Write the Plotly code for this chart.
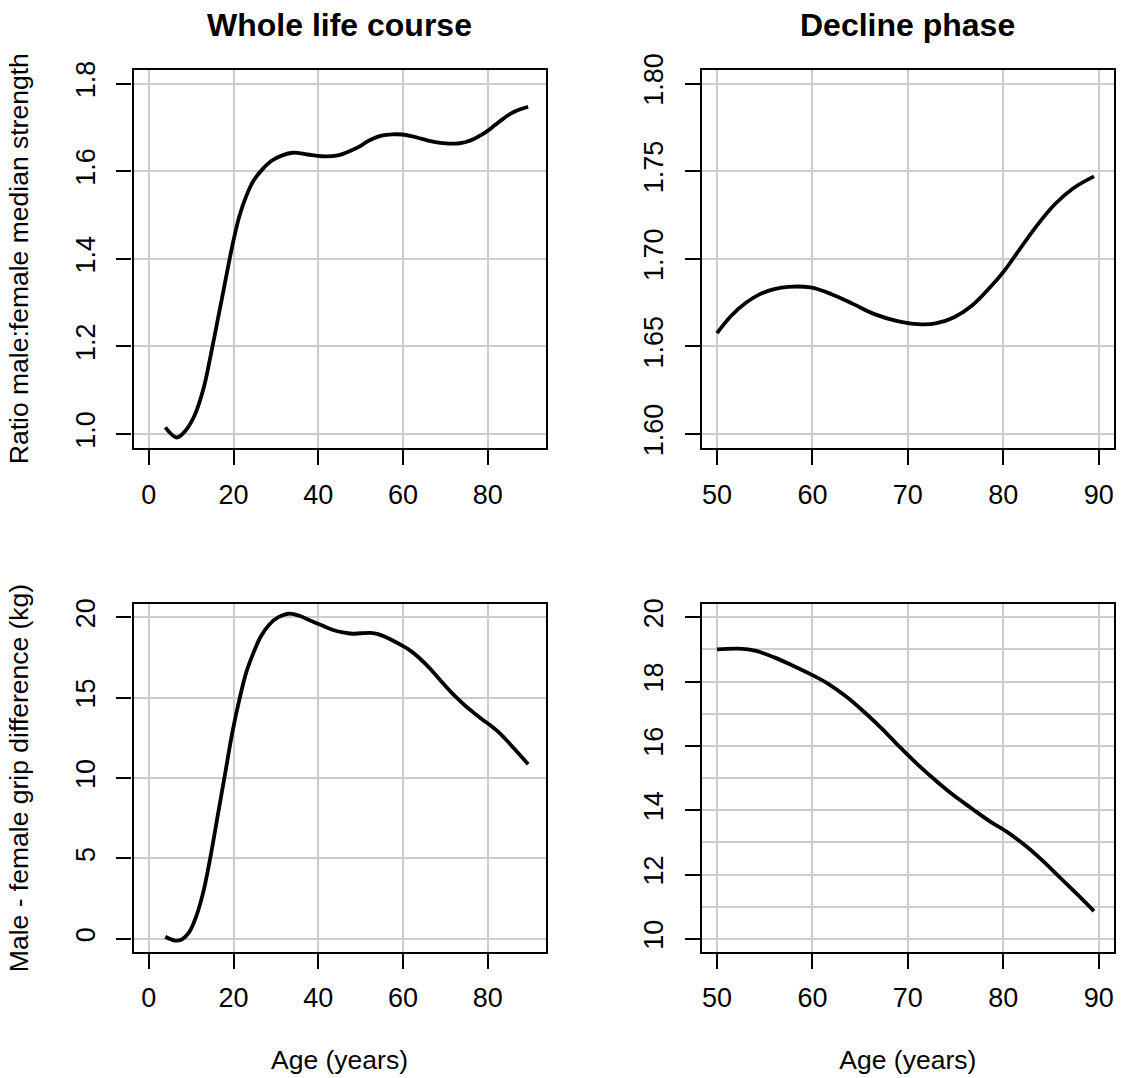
import plotly.graph_objects as go

# ---- data ----
age_ratio = [3.9, 6.6, 8.7, 10.8, 12.9, 14.6, 16.3, 18.0, 19.7, 21.4, 23.0, 24.7, 26.8,
             28.9, 31.5, 34.0, 37.4, 40.8, 44.6, 47.5, 50.0, 51.5, 53.0, 54.5, 56.0,
             57.5, 59.8, 62.0, 64.3, 66.5, 68.8, 71.1, 72.9, 74.8, 76.7, 78.6, 80.1,
             81.6, 83.5, 85.4, 87.3, 89.5]
ratio = [1.015, 0.992, 1.008, 1.042, 1.103, 1.179, 1.262, 1.346, 1.429, 1.498, 1.543,
         1.578, 1.604, 1.623, 1.636, 1.642, 1.638, 1.634, 1.636, 1.646, 1.6576, 1.6675,
         1.6747, 1.6798, 1.6827, 1.6840, 1.6836, 1.6798, 1.6741, 1.6684, 1.6646, 1.6627,
         1.6631, 1.6665, 1.6732, 1.6836, 1.6931, 1.7045, 1.7188, 1.7311, 1.7401, 1.7470]

age_grip = [3.9, 6.2, 7.8, 9.5, 11.2, 12.9, 14.6, 16.3, 18.0, 19.7, 21.4, 23.0, 24.7,
            26.4, 28.5, 30.6, 33.2, 35.7, 38.2, 40.8, 43.3, 45.8, 48.0, 50.0, 52.3,
            54.1, 56.0, 57.9, 60.0, 61.7, 63.5, 65.4, 67.3, 69.2, 71.1, 73.0, 74.8,
            76.7, 78.6, 80.5, 82.4, 84.2, 86.1, 88.0, 89.5]
grip_diff = [0.13, -0.11, -0.04, 0.40, 1.40, 2.95, 5.16, 7.71, 10.25, 12.80, 14.90,
             16.57, 17.78, 18.78, 19.56, 20.00, 20.22, 20.07, 19.78, 19.49, 19.22, 19.05,
             18.97, 19.00, 19.02, 18.95, 18.75, 18.50, 18.20, 17.92, 17.54, 17.06, 16.53,
             15.95, 15.40, 14.90, 14.46, 14.05, 13.65, 13.30, 12.88, 12.41, 11.86, 11.31,
             10.86]

decline_start = 50

titles = ["Whole life course", "Decline phase"]
ytitle_ratio = "Ratio male:female median strength"
ytitle_grip = "Male - female grip difference (kg)"
xtitle = "Age (years)"

FONT = "Liberation Sans, Arial, sans-serif"
W, H = 1122, 1078

def sub(xs, ys, lo):
    pairs = [(a, b) for a, b in zip(xs, ys) if a >= lo]
    return [p[0] for p in pairs], [p[1] for p in pairs]

fig = go.Figure()
line = dict(color="black", width=3.8, shape="spline", smoothing=1)
fig.add_trace(go.Scatter(x=age_ratio, y=ratio, mode="lines", line=line, xaxis="x", yaxis="y"))
dx, dy = sub(age_ratio, ratio, decline_start)
fig.add_trace(go.Scatter(x=dx, y=dy, mode="lines", line=line, xaxis="x2", yaxis="y2"))
fig.add_trace(go.Scatter(x=age_grip, y=grip_diff, mode="lines", line=line, xaxis="x3", yaxis="y3"))
gx, gy = sub(age_grip, grip_diff, decline_start)
fig.add_trace(go.Scatter(x=gx, y=gy, mode="lines", line=line, xaxis="x4", yaxis="y4"))

def px_x(a, b):
    return [a / W, b / W]

def px_y(top, bottom):
    return [1 - bottom / H, 1 - top / H]

GRID = "#cccccc"
common = dict(showline=True, linecolor="black", linewidth=2.4, mirror=True,
              ticks="outside", ticklen=15, tickwidth=2.4, tickcolor="black",
              showgrid=True, gridcolor=GRID, gridwidth=2, zeroline=False,
              tickfont=dict(size=27, color="black", family=FONT), automargin=False)

xcommon = dict(common, ticklabelstandoff=6)
ycommon = dict(common, tickangle=-90, ticklabelstandoff=11)

dom_x_left = px_x(133.5, 545.5)
dom_x_right = px_x(701.7, 1114)
dom_y_top = px_y(69.5, 448)
dom_y_bot = px_y(604.3, 951.7)

titlefont = dict(size=26.5, color="black", family=FONT)

fig.update_layout(
    width=W, height=H,
    margin=dict(l=0, r=0, t=0, b=0),
    paper_bgcolor="white", plot_bgcolor="white",
    showlegend=False,
    font=dict(family=FONT, color="black"),
    xaxis=dict(xcommon, domain=dom_x_left, anchor="y", range=[-3.6, 93.6],
               tickvals=[0, 20, 40, 60, 80]),
    yaxis=dict(ycommon, domain=dom_y_top, anchor="x", range=[0.968, 1.832],
               tickvals=[1.0, 1.2, 1.4, 1.6, 1.8], ticktext=["1.0", "1.2", "1.4", "1.6", "1.8"],
               title=dict(text=ytitle_ratio, font=titlefont, standoff=34)),
    xaxis2=dict(xcommon, domain=dom_x_right, anchor="y2", range=[48.4, 91.6],
                tickvals=[50, 60, 70, 80, 90]),
    yaxis2=dict(ycommon, domain=dom_y_top, anchor="x2", range=[1.592, 1.808],
                tickvals=[1.60, 1.65, 1.70, 1.75, 1.80],
                ticktext=["1.60", "1.65", "1.70", "1.75", "1.80"]),
    xaxis3=dict(xcommon, domain=dom_x_left, anchor="y3", range=[-3.6, 93.6],
                tickvals=[0, 20, 40, 60, 80],
                title=dict(text=xtitle, font=titlefont, standoff=38)),
    yaxis3=dict(ycommon, domain=dom_y_bot, anchor="x3", range=[-0.8, 20.8],
                tickvals=[0, 5, 10, 15, 20],
                title=dict(text=ytitle_grip, font=titlefont, standoff=34)),
    xaxis4=dict(xcommon, domain=dom_x_right, anchor="y4", range=[48.4, 91.6],
                tickvals=[50, 60, 70, 80, 90],
                title=dict(text=xtitle, font=titlefont, standoff=38)),
    yaxis4=dict(ycommon, domain=dom_y_bot, anchor="x4", range=[9.6, 20.4],
                tickvals=[10, 12, 14, 16, 18, 20],
                minor=dict(tickvals=[11, 13, 15, 17, 19], showgrid=True,
                           gridcolor=GRID, gridwidth=2, ticks="")),
)

for i, t in enumerate(titles):
    dom = dom_x_left if i == 0 else dom_x_right
    fig.add_annotation(text="<b>" + t + "</b>", xref="paper", yref="paper",
                       x=(dom[0] + dom[1]) / 2, y=1 - 25 / H, xanchor="center", yanchor="middle",
                       showarrow=False, font=dict(size=32, color="black", family=FONT))

fig.write_html("out.html")
